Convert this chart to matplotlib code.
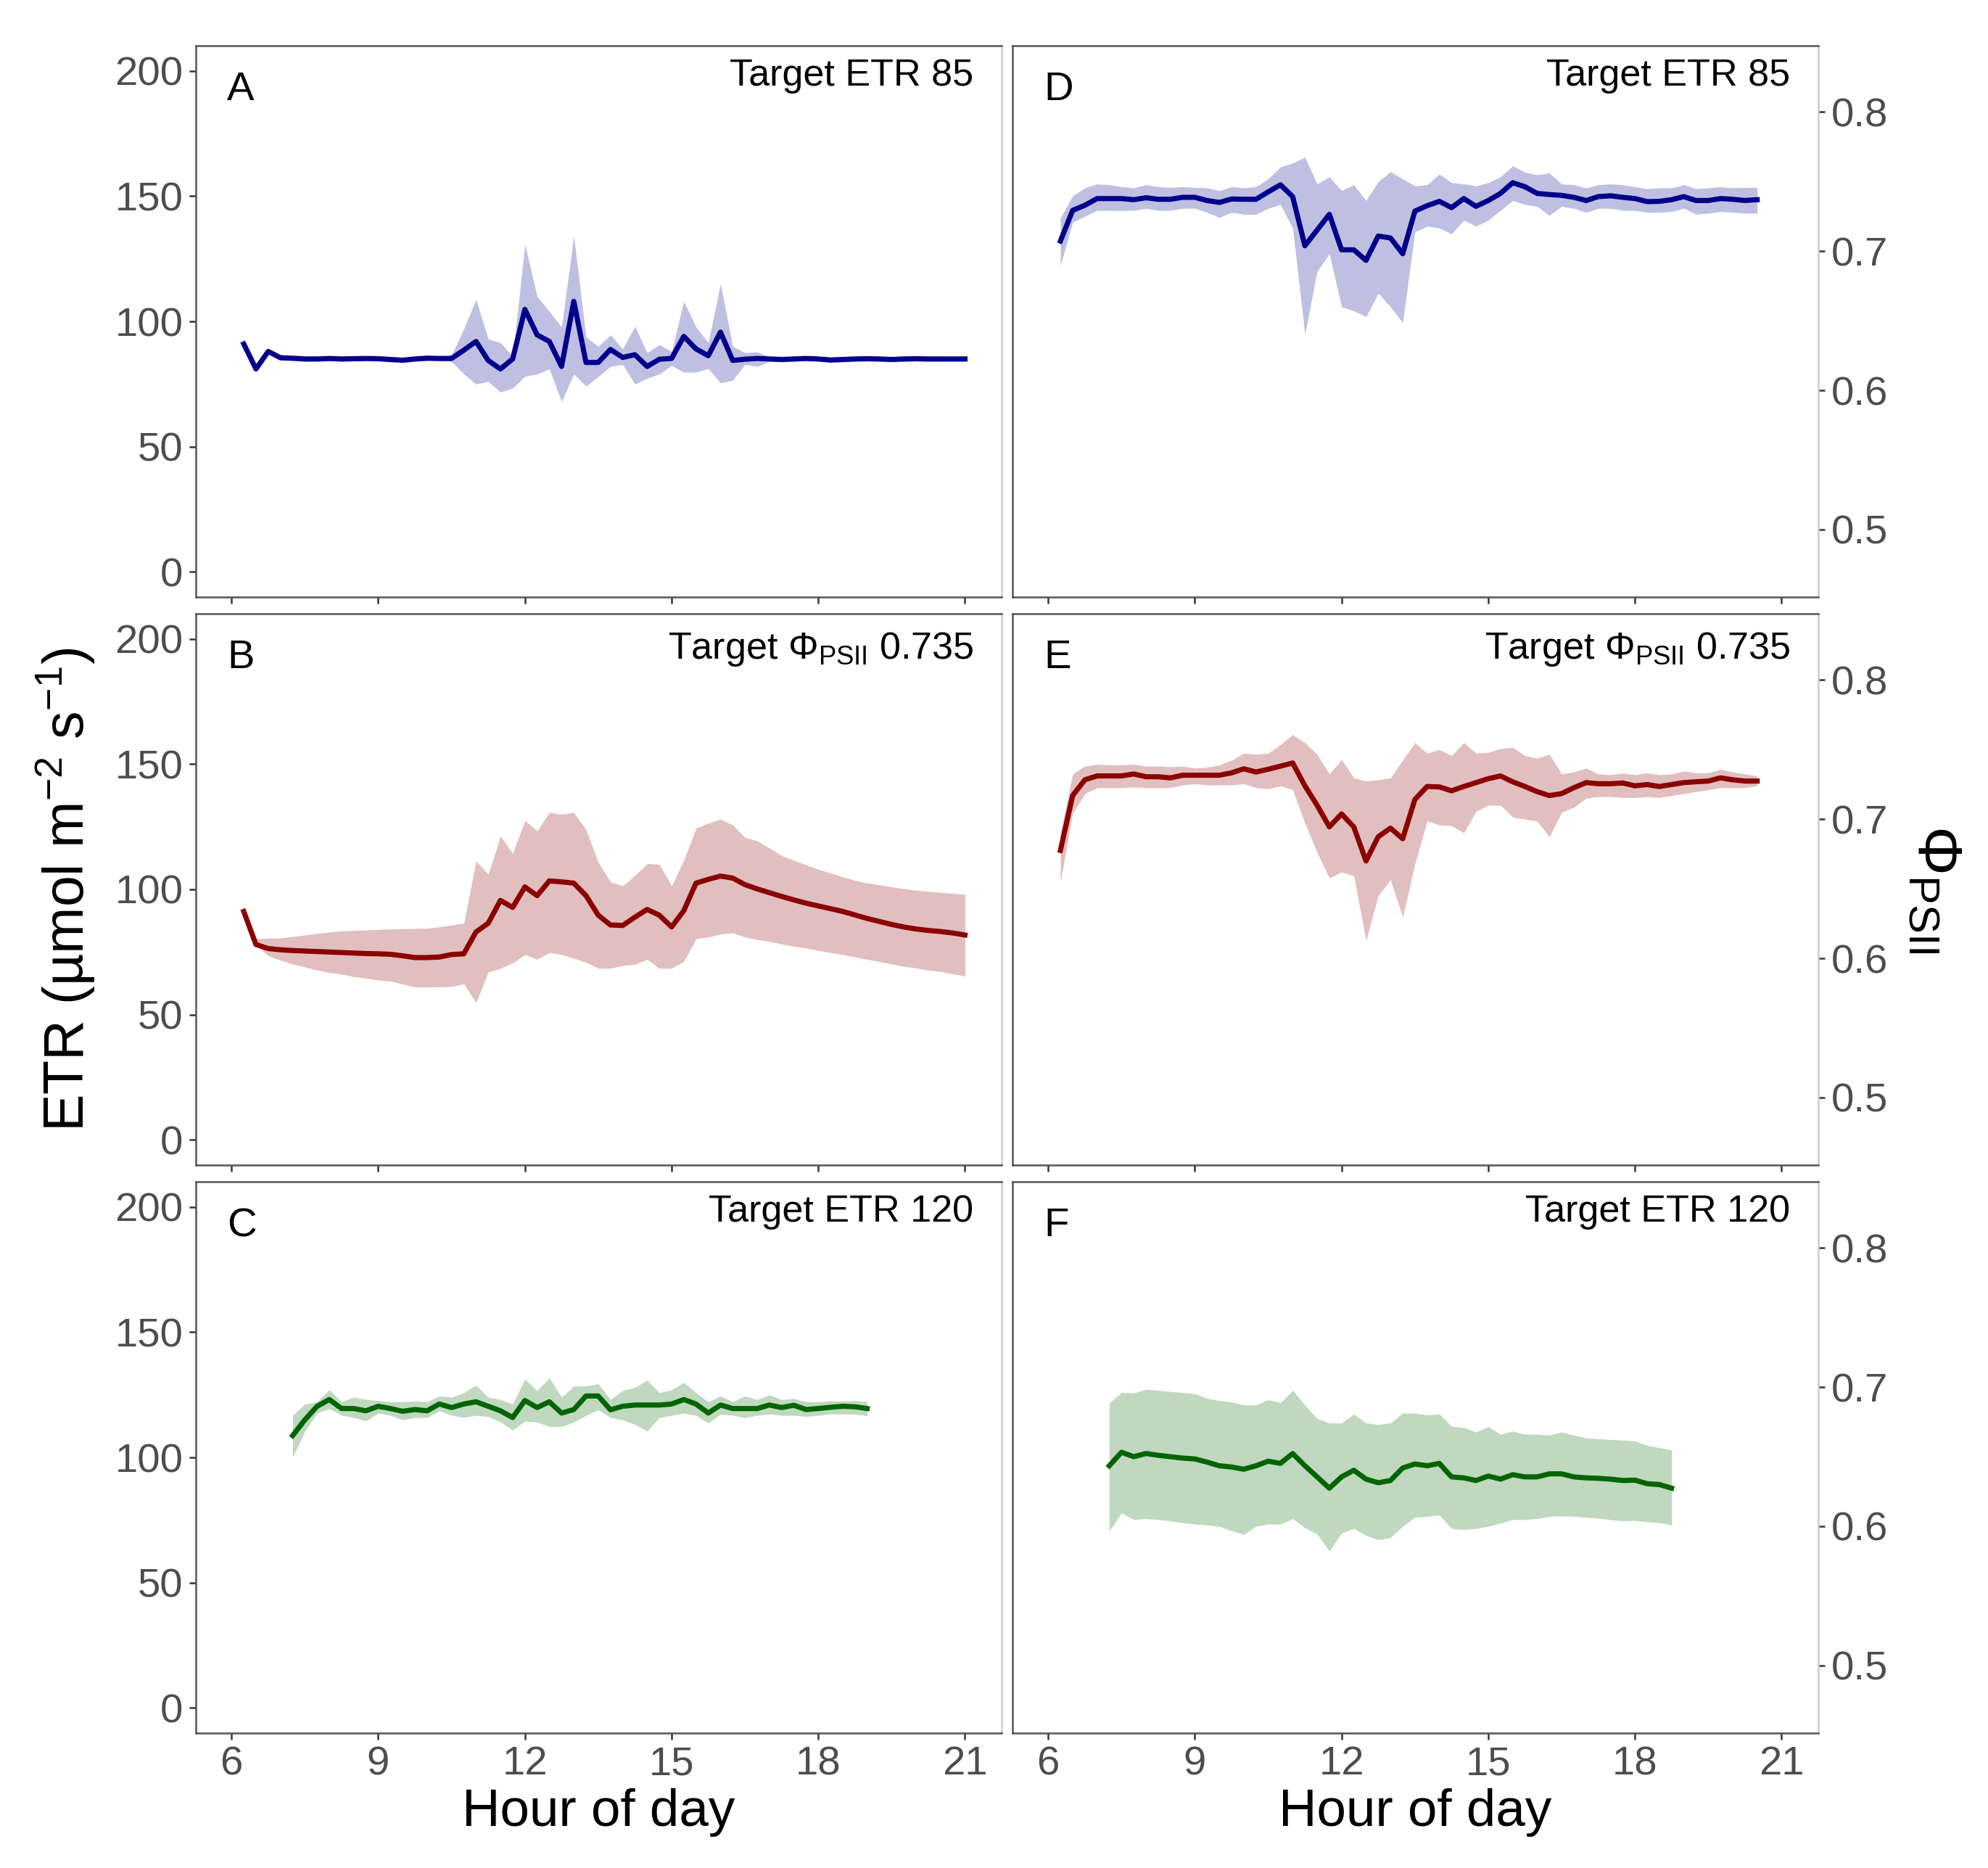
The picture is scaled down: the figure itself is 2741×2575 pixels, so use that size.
import matplotlib
matplotlib.use("Agg")
import matplotlib.pyplot as plt

plt.rcParams['font.family'] = ['Liberation Sans', 'DejaVu Sans']
plt.rcParams['mathtext.fontset'] = 'custom'
plt.rcParams['mathtext.rm'] = 'Liberation Sans'
plt.rcParams['mathtext.it'] = 'Liberation Sans:italic'
plt.rcParams['mathtext.bf'] = 'Liberation Sans:bold'

# ---- data (15 min steps) ----
hours_ab = [6.25, 6.5, 6.75, 7.0, 7.25, 7.5, 7.75, 8.0, 8.25, 8.5,
            8.75, 9.0, 9.25, 9.5, 9.75, 10.0, 10.25, 10.5, 10.75, 11.0,
            11.25, 11.5, 11.75, 12.0, 12.25, 12.5, 12.75, 13.0, 13.25, 13.5,
            13.75, 14.0, 14.25, 14.5, 14.75, 15.0, 15.25, 15.5, 15.75, 16.0,
            16.25, 16.5, 16.75, 17.0, 17.25, 17.5, 17.75, 18.0, 18.25, 18.5,
            18.75, 19.0, 19.25, 19.5, 19.75, 20.0, 20.25, 20.5, 20.75, 21.0]

etr_a = [91, 81, 88, 85.5, 85.3, 85, 85, 85.2, 85, 85.1,
         85.2, 85.1, 84.8, 84.5, 85, 85.3, 85.2, 85.2, 88.5, 92,
         84.4, 81, 85, 104.8, 94.6, 92, 82, 108, 83.6, 83.6,
         88.8, 85.6, 86.7, 82, 84.9, 85.2, 94, 89, 86.3, 95.7,
         84.4, 84.9, 85.2, 85, 84.8, 85, 85.2, 85, 84.6, 84.8,
         85, 85.1, 85, 84.8, 85, 85.1, 85, 85, 85, 85]
etr_a_lo = [91, 80.5, 87.5, 84.5, 84.3, 84, 84, 84.2, 84, 84.1,
            84.2, 84.1, 83.8, 83.5, 84, 84.3, 84.2, 84, 79, 75,
            76, 71.8, 73.4, 78, 79, 81, 68, 79, 74.2, 78,
            82, 82.8, 75, 77.3, 79, 82.4, 79.7, 79.7, 81.2, 75.4,
            76.5, 82.8, 82, 84, 83.8, 84, 84.2, 84, 83.6, 83.8,
            84, 84.1, 84, 83.8, 84, 84.1, 84, 84, 84, 84]
etr_a_hi = [91, 81.5, 88.5, 86.5, 86.3, 86, 86, 86.2, 86, 86.1,
            86.2, 86.1, 85.8, 85.5, 86, 86.3, 86.2, 86.5, 97, 108.7,
            93, 91.5, 86, 130.7, 110, 104, 97.7, 134, 93.8, 90,
            94.6, 89, 98, 87.5, 90.7, 88, 108, 97.7, 91.5, 115,
            90, 87.5, 87.8, 86, 85.8, 86, 86.2, 86, 85.6, 85.8,
            86, 86.1, 86, 85.8, 86, 86.1, 86, 86, 86, 86]

etr_b = [91.2, 78, 76.4, 75.9, 75.6, 75.4, 75.2, 75, 74.8, 74.6,
         74.4, 74.3, 74.1, 73.5, 72.8, 72.8, 73, 74, 74.3, 83,
         86.5, 95.6, 92.8, 101, 97.5, 103.4, 103, 102.5, 97.5, 89.7,
         85.8, 85.6, 88.9, 92, 89.7, 85, 91.5, 102.5, 104, 105.3,
         104.5, 101.9, 100.2, 98.7, 97.2, 95.8, 94.5, 93.4, 92.3, 91.2,
         89.8, 88.4, 87.2, 86, 85, 84.2, 83.6, 83.2, 82.6, 81.8]
etr_b_lo = [91.2, 78, 73.5, 71.7, 70.2, 69, 67.8, 66.8, 66.2, 65.2,
            64.5, 63.8, 63.4, 62.2, 61, 61, 61.1, 61.2, 62.3, 54.8,
            67, 68.5, 70.6, 74, 72.1, 74.8, 74, 72.5, 70.9, 68.5,
            68.5, 69.6, 70.1, 72.1, 68.5, 68.5, 71.2, 80.3, 81, 82.2,
            82.6, 81, 80, 79.2, 78.2, 77.3, 76.6, 75.6, 74.8, 74,
            73, 72.1, 71.2, 70.2, 69.3, 68.6, 67.8, 67.2, 66.3, 65.4]
etr_b_hi = [91.2, 80.3, 80.5, 80.6, 81.2, 81.8, 82.4, 83, 83.4, 83.6,
            83.8, 84, 84.2, 84.3, 84.4, 84.5, 85, 85.8, 86.5, 111.3,
            106, 121.3, 114.4, 127.5, 123.3, 130.7, 130, 130.7, 123.8, 110.8,
            103, 101.4, 105.6, 110.3, 110, 101.4, 111.6, 124.4, 126.4, 128,
            125.7, 120.7, 119.4, 116.5, 113.5, 111.6, 109.8, 108, 106.5, 105,
            103.6, 102.5, 101.8, 101, 100.3, 99.7, 99.2, 98.8, 98.4, 98]

hours_c = [7.25, 7.5, 7.75, 8.0, 8.25, 8.5, 8.75, 9.0, 9.25, 9.5,
           9.75, 10.0, 10.25, 10.5, 10.75, 11.0, 11.25, 11.5, 11.75, 12.0,
           12.25, 12.5, 12.75, 13.0, 13.25, 13.5, 13.75, 14.0, 14.25, 14.5,
           14.75, 15.0, 15.25, 15.5, 15.75, 16.0, 16.25, 16.5, 16.75, 17.0,
           17.25, 17.5, 17.75, 18.0, 18.25, 18.5, 18.75, 19.0]
etr_c = [108.7, 115, 120.4, 123.1, 119.5, 119.5, 118.6, 120.4, 119.5, 118.4,
         119.1, 118.6, 121.3, 119.9, 121.3, 122.2, 120.4, 118.6, 115.9, 122.7,
         119.9, 122.2, 117.7, 119.1, 124.5, 124.5, 119, 120.4, 120.9, 120.9,
         120.9, 121.3, 123.1, 121.3, 117.7, 120.9, 119.5, 119.5, 119.5, 120.9,
         119.9, 120.8, 119.1, 119.5, 120, 120.4, 120.2, 119.5]
etr_c_lo = [100.1, 110.5, 117.7, 119.5, 116.8, 115.9, 114.5, 117.7, 116.8, 115,
            115.9, 115.9, 118.6, 116.8, 115.9, 116.8, 116.3, 114.1, 110.9, 114.5,
            114.1, 112.3, 112.3, 114.1, 116.8, 119, 115.9, 115, 113.2, 110.5,
            115.9, 116.8, 117.7, 116.8, 113.7, 117.2, 116.8, 115.9, 116.8, 117.3,
            116.8, 116.8, 116.3, 116.8, 117.3, 117.3, 117.3, 116.6]
etr_c_hi = [116.8, 121.3, 122.2, 127, 122.2, 124, 123.1, 122.7, 122.2, 122.2,
            122.5, 122.2, 124.5, 124, 125.8, 128.8, 124, 123.1, 121.3, 131.2,
            126.7, 131.7, 124, 128.5, 128.5, 129.4, 123.1, 126.7, 128, 130.8,
            125.8, 127, 129.9, 125.8, 122.2, 124.5, 122.2, 124.5, 123.1, 124.9,
            123.1, 123.5, 122.2, 122.2, 122.5, 122.5, 122.7, 122.2]

hours_de = [6.25, 6.5, 6.75, 7.0, 7.25, 7.5, 7.75, 8.0, 8.25, 8.5,
            8.75, 9.0, 9.25, 9.5, 9.75, 10.0, 10.25, 10.5, 10.75, 11.0,
            11.25, 11.5, 11.75, 12.0, 12.25, 12.5, 12.75, 13.0, 13.25, 13.5,
            13.75, 14.0, 14.25, 14.5, 14.75, 15.0, 15.25, 15.5, 15.75, 16.0,
            16.25, 16.5, 16.75, 17.0, 17.25, 17.5, 17.75, 18.0, 18.25, 18.5,
            18.75, 19.0, 19.25, 19.5, 19.75, 20.0, 20.25, 20.5]
phi_d = [0.7072, 0.7292, 0.7329, 0.7377, 0.7377, 0.7377, 0.7369, 0.7383, 0.7372, 0.7372,
         0.7386, 0.7386, 0.7363, 0.7349, 0.7374, 0.7372, 0.7372, 0.7425, 0.7476, 0.7391,
         0.7038, 0.7151, 0.7264, 0.7009, 0.7009, 0.6933, 0.7108, 0.7094, 0.6981, 0.7287,
         0.7326, 0.7357, 0.7312, 0.7377, 0.7321, 0.7363, 0.7414, 0.7491, 0.7462, 0.7414,
         0.7406, 0.74, 0.7386, 0.7363, 0.7391, 0.7397, 0.7386, 0.7377, 0.7355, 0.7357,
         0.7369, 0.7391, 0.7363, 0.7363, 0.7377, 0.7372, 0.7363, 0.7369]
phi_d_lo = [0.6896, 0.7207, 0.725, 0.7292, 0.7292, 0.7292, 0.7292, 0.7307, 0.7292, 0.7292,
            0.7307, 0.7307, 0.7278, 0.7241, 0.7278, 0.7264, 0.7264, 0.7307, 0.7335, 0.7165,
            0.6401, 0.6854, 0.6981, 0.6599, 0.6571, 0.6528, 0.6698, 0.6599, 0.6486, 0.7137,
            0.7179, 0.7165, 0.7123, 0.7222, 0.7179, 0.7222, 0.7292, 0.7363, 0.7335, 0.7321,
            0.7256, 0.7321, 0.7307, 0.7278, 0.7307, 0.7307, 0.7292, 0.7292, 0.7278, 0.7278,
            0.7284, 0.7307, 0.7264, 0.7272, 0.7284, 0.7278, 0.7272, 0.7272]
phi_d_hi = [0.7236, 0.7397, 0.7454, 0.7482, 0.7476, 0.7462, 0.7454, 0.7476, 0.7462, 0.7457,
            0.7462, 0.7457, 0.7454, 0.7434, 0.7462, 0.7454, 0.7462, 0.7519, 0.7604, 0.7632,
            0.7675, 0.7482, 0.7533, 0.7434, 0.7476, 0.7363, 0.7499, 0.757, 0.7519, 0.7468,
            0.7476, 0.7553, 0.7491, 0.7482, 0.7468, 0.7491, 0.7533, 0.7612, 0.7567, 0.7547,
            0.7561, 0.7482, 0.7476, 0.7454, 0.7476, 0.7482, 0.7476, 0.7462, 0.7448, 0.7454,
            0.7454, 0.7476, 0.7448, 0.7454, 0.7462, 0.7454, 0.7457, 0.7457]

phi_e = [0.6775, 0.7169, 0.7282, 0.731, 0.731, 0.731, 0.7324, 0.7304, 0.7304, 0.7296,
         0.7315, 0.7315, 0.7315, 0.7315, 0.7332, 0.7361, 0.7338, 0.7358, 0.738, 0.7403,
         0.7239, 0.7099, 0.6944, 0.7037, 0.6944, 0.6699, 0.6873, 0.6935, 0.6859, 0.7141,
         0.7234, 0.7231, 0.7203, 0.7234, 0.7262, 0.729, 0.731, 0.7268, 0.7234, 0.7197,
         0.7169, 0.7183, 0.7225, 0.7262, 0.7254, 0.7254, 0.7259, 0.7239, 0.7248, 0.7234,
         0.7248, 0.7262, 0.7268, 0.7273, 0.7296, 0.7282, 0.7273, 0.7273]
phi_e_lo = [0.6549, 0.7042, 0.7183, 0.7225, 0.7225, 0.7225, 0.7231, 0.7225, 0.7225, 0.7225,
            0.7245, 0.7254, 0.7245, 0.7245, 0.7245, 0.7254, 0.7225, 0.7217, 0.7239, 0.7211,
            0.6972, 0.6761, 0.6577, 0.662, 0.6592, 0.6127, 0.6451, 0.6563, 0.6296, 0.6676,
            0.6986, 0.6958, 0.6952, 0.6901, 0.7056, 0.7099, 0.7099, 0.7014, 0.7, 0.6986,
            0.6873, 0.7048, 0.7085, 0.7149, 0.7161, 0.7161, 0.7155, 0.7155, 0.7161, 0.7155,
            0.7169, 0.7183, 0.7197, 0.7211, 0.7225, 0.7225, 0.7225, 0.7239]
phi_e_hi = [0.6901, 0.7324, 0.738, 0.7394, 0.7389, 0.7389, 0.7394, 0.738, 0.738, 0.7375,
            0.738, 0.7366, 0.7372, 0.7389, 0.7423, 0.7473, 0.7465, 0.7473, 0.7535, 0.7606,
            0.7549, 0.7465, 0.7324, 0.7428, 0.7296, 0.7273, 0.7282, 0.7296, 0.7423, 0.7549,
            0.7473, 0.7499, 0.7456, 0.7549, 0.7473, 0.7479, 0.7507, 0.7515, 0.7456, 0.7437,
            0.7465, 0.7324, 0.7338, 0.7366, 0.7324, 0.7318, 0.733, 0.7318, 0.7332, 0.7318,
            0.7324, 0.7344, 0.7332, 0.7332, 0.7358, 0.7338, 0.7324, 0.731]

hours_f = [7.25, 7.5, 7.75, 8.0, 8.25, 8.5, 8.75, 9.0, 9.25, 9.5,
           9.75, 10.0, 10.25, 10.5, 10.75, 11.0, 11.25, 11.5, 11.75, 12.0,
           12.25, 12.5, 12.75, 13.0, 13.25, 13.5, 13.75, 14.0, 14.25, 14.5,
           14.75, 15.0, 15.25, 15.5, 15.75, 16.0, 16.25, 16.5, 16.75, 17.0,
           17.25, 17.5, 17.75, 18.0, 18.25, 18.5, 18.75]
phi_f = [0.6435, 0.6532, 0.65, 0.6523, 0.651, 0.65, 0.649, 0.6484, 0.6461, 0.6435,
         0.6426, 0.641, 0.6435, 0.6468, 0.6452, 0.6523, 0.6435, 0.6355, 0.6274, 0.6355,
         0.6403, 0.6339, 0.6313, 0.6329, 0.6419, 0.6448, 0.6435, 0.6452, 0.6355, 0.6348,
         0.6329, 0.6361, 0.6339, 0.6371, 0.6355, 0.6355, 0.6377, 0.6377, 0.6355, 0.6348,
         0.6345, 0.6339, 0.6329, 0.6332, 0.6306, 0.63, 0.6274]
phi_f_lo = [0.5968, 0.6097, 0.6048, 0.6055, 0.6048, 0.6039, 0.6026, 0.6016, 0.601, 0.6,
            0.5968, 0.5942, 0.6, 0.6016, 0.6016, 0.6055, 0.599, 0.5945, 0.5823, 0.5952,
            0.5984, 0.5935, 0.5903, 0.5919, 0.6, 0.6065, 0.6071, 0.6081, 0.5984, 0.5977,
            0.5984, 0.6, 0.6023, 0.6048, 0.6048, 0.6055, 0.6071, 0.6074, 0.6071, 0.6065,
            0.6058, 0.6048, 0.6039, 0.6042, 0.6032, 0.6026, 0.601]
phi_f_hi = [0.6887, 0.6961, 0.6958, 0.6984, 0.6977, 0.6968, 0.6961, 0.6952, 0.6919, 0.6903,
            0.6894, 0.6871, 0.6871, 0.691, 0.6887, 0.6977, 0.6871, 0.6774, 0.6742, 0.6742,
            0.6806, 0.6742, 0.6732, 0.6742, 0.6813, 0.6813, 0.68, 0.6806, 0.6719, 0.671,
            0.6677, 0.6716, 0.6661, 0.6684, 0.6661, 0.6661, 0.6655, 0.6677, 0.6655, 0.6635,
            0.6629, 0.6623, 0.6619, 0.6613, 0.6581, 0.6565, 0.6548]

letters = ['A', 'B', 'C', 'D', 'E', 'F']
titles = ['Target ETR 85', r'Target $\Phi_{\mathrm{PSII}}$ 0.735', 'Target ETR 120'] * 2
colors = ['#00008B', '#8B0000', '#006400']
x_ticks = [6, 9, 12, 15, 18, 21]
etr_ticks = [0, 50, 100, 150, 200]
phi_ticks = [0.5, 0.6, 0.7, 0.8]

series = [
    (hours_ab, etr_a, etr_a_lo, etr_a_hi),
    (hours_ab, etr_b, etr_b_lo, etr_b_hi),
    (hours_c, etr_c, etr_c_lo, etr_c_hi),
    (hours_de, phi_d, phi_d_lo, phi_d_hi),
    (hours_de, phi_e, phi_e_lo, phi_e_hi),
    (hours_f, phi_f, phi_f_lo, phi_f_hi),
]

# ---- layout (pixel positions of the panels in a 2741x2575 canvas) ----
W, H = 2741, 2575
fig = plt.figure(figsize=(W / 300, H / 300), dpi=300)
col_left = [270 / W, 1396 / W]
col_w = 1111 / W
row_top = [63, 846, 1629]
row_h = 760 / H

dark = '#555555'
light = '#cccccc'

for i, (hrs, mean, lo, hi) in enumerate(series):
    col, row = i // 3, i % 3
    ax = fig.add_axes([col_left[col], 1 - row_top[row] / H - row_h, col_w, row_h])
    c = colors[row]
    ax.fill_between(hrs, lo, hi, color=c, alpha=0.25, lw=0)
    ax.plot(hrs, mean, color=c, lw=1.7)

    ax.set_xlim(5.27, 21.75)
    ax.set_xticks(x_ticks)
    if col == 0:
        ax.set_ylim(-10, 210)
        ax.set_yticks(etr_ticks)
        ax.set_yticklabels([str(t) for t in etr_ticks])
    else:
        ax.set_ylim(0.4515, 0.8475)
        ax.set_yticks(phi_ticks)
        ax.set_yticklabels([str(t) for t in phi_ticks])
        ax.yaxis.tick_right()

    if row == 2:
        ax.set_xticklabels([str(t) for t in x_ticks])
    else:
        ax.set_xticklabels([])

    for s in ['left', 'top', 'bottom']:
        ax.spines[s].set_color(dark)
        ax.spines[s].set_linewidth(0.6)
    ax.spines['right'].set_color(light)
    ax.spines['right'].set_linewidth(0.6)

    ax.tick_params(length=2.2, width=0.6, color='#333333', labelcolor='#4d4d4d',
                   labelsize=13.5, pad=2)

    ax.text(0.0387, 0.901, letters[i], transform=ax.transAxes, fontsize=13.5,
            ha='left', va='baseline', color='black')
    ty = 0.918 if row == 1 else 0.9275
    ax.text(0.965, ty, titles[i], transform=ax.transAxes, fontsize=12.5,
            ha='right', va='baseline', color='black')

mid_y = 1 - 1226 / H
fig.text(0.3012, 1 - 2517 / H, 'Hour of day', fontsize=17.5, ha='center', va='baseline')
fig.text(0.712, 1 - 2517 / H, 'Hour of day', fontsize=17.5, ha='center', va='baseline')
fig.text(90 / W, mid_y, r'ETR (µmol m$^{-2}$ s$^{-1}$)', rotation=90,
         fontsize=18.5, ha='center', va='center')
fig.text(2667 / W, mid_y, r'$\Phi_{\mathrm{PSII}}$', rotation=-90,
         fontsize=20.5, ha='center', va='center')

fig.savefig('out.png', dpi=300, facecolor='white')
